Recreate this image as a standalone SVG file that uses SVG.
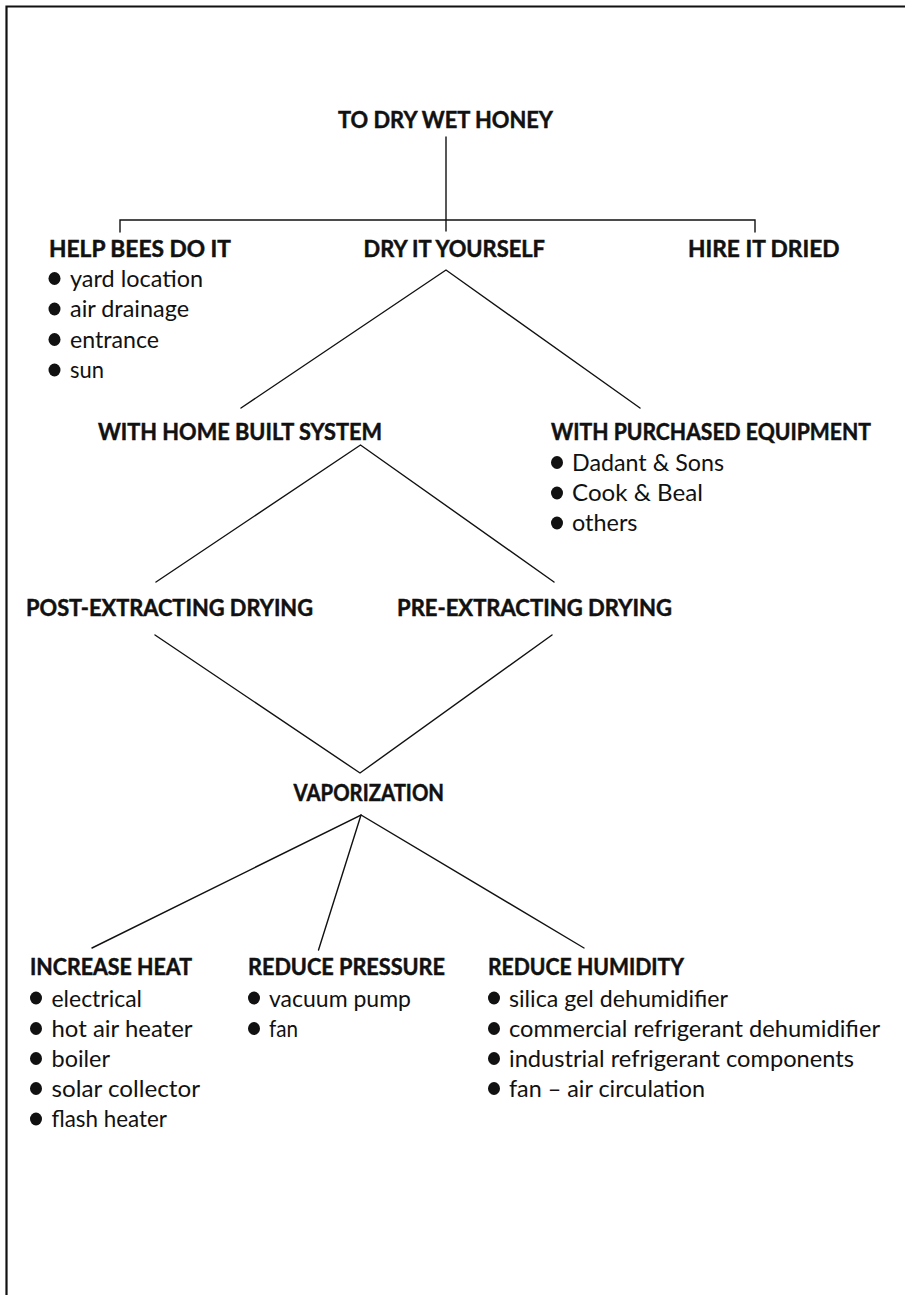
<svg xmlns="http://www.w3.org/2000/svg" width="905" height="1295" viewBox="0 0 905 1295">
<style>
.h{font-family:Lato,"Liberation Sans",sans-serif;font-weight:700;font-size:23.5px;fill:#111;stroke:#111;stroke-width:0.5}
.b{font-family:Lato,"Liberation Sans",sans-serif;font-weight:400;font-size:24px;fill:#111}
.ln{stroke:#111;stroke-width:1.4;fill:none;stroke-linecap:round}
.bd{stroke:#111;stroke-width:2.2;fill:none}
.dot{fill:#111}
</style>
<rect x="0" y="0" width="905" height="1295" fill="#fff"/>
<path class="bd" d="M6.5,1295 V6.5 H905"/>
<g id="connectors">
<path class="ln" d="M446,137 V231"/>
<path class="ln" d="M120,232 V220 H755 V232"/>
<path class="ln" d="M241,408 L446,270 L640,408"/>
<path class="ln" d="M156,582 L360.5,445 L554,582"/>
<path class="ln" d="M155,635 L360,773 L552,635"/>
<path class="ln" d="M92,948 L361,815 L584,948"/>
<path class="ln" d="M361,815 L318.5,950"/>
</g>
<g id="n-root"><text class="h" x="338" y="128" textLength="215" lengthAdjust="spacingAndGlyphs">TO DRY WET HONEY</text></g>
<g id="n-help">
<text class="h" x="49" y="256.5" textLength="182" lengthAdjust="spacingAndGlyphs">HELP BEES DO IT</text>
<ellipse class="dot" cx="54.5" cy="278.5" rx="6" ry="6.5"/>
<text class="b" x="70" y="286.5" textLength="133" lengthAdjust="spacingAndGlyphs">yard location</text>
<ellipse class="dot" cx="54.5" cy="309" rx="6" ry="6.5"/>
<text class="b" x="70" y="317" textLength="119" lengthAdjust="spacingAndGlyphs">air drainage</text>
<ellipse class="dot" cx="54.5" cy="339.5" rx="6" ry="6.5"/>
<text class="b" x="70" y="347.5" textLength="89" lengthAdjust="spacingAndGlyphs">entrance</text>
<ellipse class="dot" cx="54.5" cy="370" rx="6" ry="6.5"/>
<text class="b" x="70" y="378" textLength="34" lengthAdjust="spacingAndGlyphs">sun</text>
</g>
<g id="n-dry"><text class="h" x="363.5" y="256.5" textLength="181.5" lengthAdjust="spacingAndGlyphs">DRY IT YOURSELF</text></g>
<g id="n-hire"><text class="h" x="688" y="256.5" textLength="151.5" lengthAdjust="spacingAndGlyphs">HIRE IT DRIED</text></g>
<g id="n-home"><text class="h" x="98" y="440" textLength="284" lengthAdjust="spacingAndGlyphs">WITH HOME BUILT SYSTEM</text></g>
<g id="n-purchased">
<text class="h" x="551" y="440" textLength="320" lengthAdjust="spacingAndGlyphs">WITH PURCHASED EQUIPMENT</text>
<ellipse class="dot" cx="557" cy="462.5" rx="6" ry="6.5"/>
<text class="b" x="572" y="470.5" textLength="152" lengthAdjust="spacingAndGlyphs">Dadant &amp; Sons</text>
<ellipse class="dot" cx="557" cy="493" rx="6" ry="6.5"/>
<text class="b" x="572" y="501" textLength="131" lengthAdjust="spacingAndGlyphs">Cook &amp; Beal</text>
<ellipse class="dot" cx="557" cy="523" rx="6" ry="6.5"/>
<text class="b" x="572" y="531" textLength="65.5" lengthAdjust="spacingAndGlyphs">others</text>
</g>
<g id="n-post"><text class="h" x="26" y="616" textLength="287" lengthAdjust="spacingAndGlyphs">POST-EXTRACTING DRYING</text></g>
<g id="n-pre"><text class="h" x="397" y="616" textLength="275" lengthAdjust="spacingAndGlyphs">PRE-EXTRACTING DRYING</text></g>
<g id="n-vapor"><text class="h" x="293.5" y="801" textLength="150.5" lengthAdjust="spacingAndGlyphs">VAPORIZATION</text></g>
<g id="n-heat">
<text class="h" x="30" y="975" textLength="162" lengthAdjust="spacingAndGlyphs">INCREASE HEAT</text>
<ellipse class="dot" cx="36" cy="998" rx="6" ry="6.5"/>
<text class="b" x="51.5" y="1006.5" textLength="90.5" lengthAdjust="spacingAndGlyphs">electrical</text>
<ellipse class="dot" cx="36" cy="1028.5" rx="6" ry="6.5"/>
<text class="b" x="51.5" y="1036.7" textLength="141" lengthAdjust="spacingAndGlyphs">hot air heater</text>
<ellipse class="dot" cx="36" cy="1058.5" rx="6" ry="6.5"/>
<text class="b" x="51.5" y="1066.7" textLength="58.5" lengthAdjust="spacingAndGlyphs">boiler</text>
<ellipse class="dot" cx="36" cy="1088.5" rx="6" ry="6.5"/>
<text class="b" x="51.5" y="1096.7" textLength="148.5" lengthAdjust="spacingAndGlyphs">solar collector</text>
<ellipse class="dot" cx="36" cy="1119" rx="6" ry="6.5"/>
<text class="b" x="51.5" y="1127.2" textLength="115.5" lengthAdjust="spacingAndGlyphs">flash heater</text>
</g>
<g id="n-pressure">
<text class="h" x="248" y="975" textLength="197" lengthAdjust="spacingAndGlyphs">REDUCE PRESSURE</text>
<ellipse class="dot" cx="254" cy="998" rx="6" ry="6.5"/>
<text class="b" x="269" y="1006.5" textLength="142" lengthAdjust="spacingAndGlyphs">vacuum pump</text>
<ellipse class="dot" cx="254" cy="1028.5" rx="6" ry="6.5"/>
<text class="b" x="269" y="1036.7" textLength="29" lengthAdjust="spacingAndGlyphs">fan</text>
</g>
<g id="n-humidity">
<text class="h" x="488" y="975" textLength="196" lengthAdjust="spacingAndGlyphs">REDUCE HUMIDITY</text>
<ellipse class="dot" cx="494" cy="998" rx="6" ry="6.5"/>
<text class="b" x="509" y="1006.5" textLength="219" lengthAdjust="spacingAndGlyphs">silica gel dehumidifier</text>
<ellipse class="dot" cx="494" cy="1028.5" rx="6" ry="6.5"/>
<text class="b" x="509" y="1036.7" textLength="371" lengthAdjust="spacingAndGlyphs">commercial refrigerant dehumidifier</text>
<ellipse class="dot" cx="494" cy="1058.5" rx="6" ry="6.5"/>
<text class="b" x="509" y="1066.7" textLength="345" lengthAdjust="spacingAndGlyphs">industrial refrigerant components</text>
<ellipse class="dot" cx="494" cy="1088.5" rx="6" ry="6.5"/>
<text class="b" x="509" y="1096.7" textLength="196" lengthAdjust="spacingAndGlyphs">fan – air circulation</text>
</g>
</svg>
